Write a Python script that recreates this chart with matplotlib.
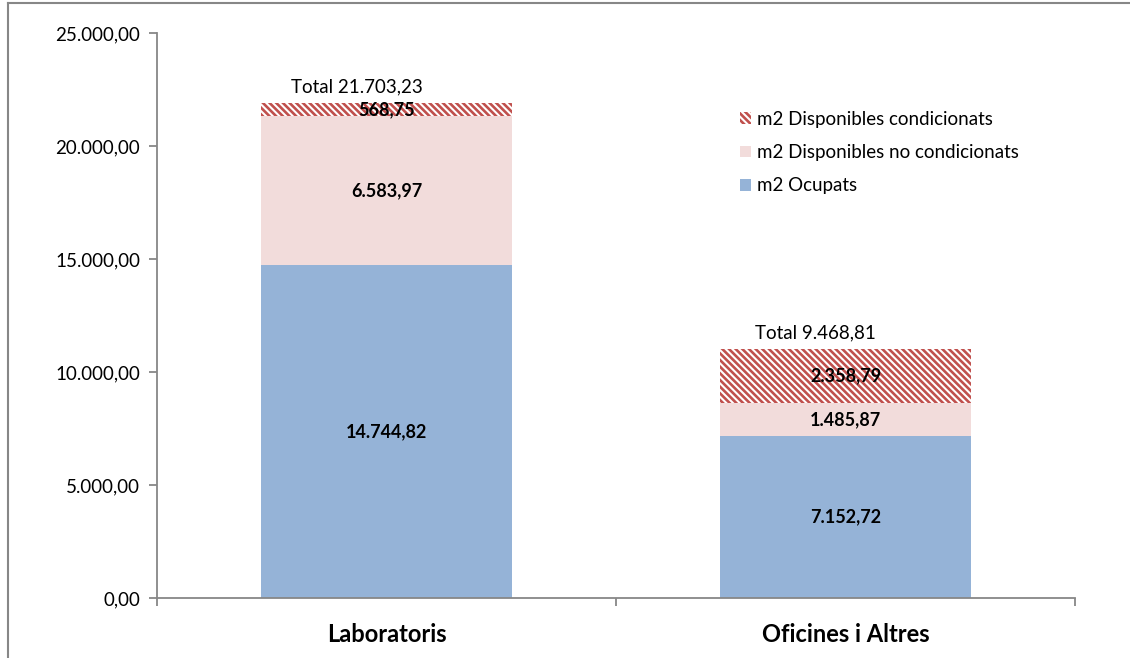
"""Stacked bar chart of m2 per building type."""
import matplotlib
matplotlib.use("Agg")
import matplotlib.pyplot as plt
from matplotlib.lines import Line2D
import numpy as np

plt.rcParams["font.family"] = ["Lato", "DejaVu Sans"]
plt.rcParams["hatch.linewidth"] = 1.9

categories = ["Laboratoris", "Oficines i Altres"]
ocupats = [14744.82, 7152.72]
no_condicionats = [6583.97, 1485.87]
condicionats = [568.75, 2358.79]
totals = [21703.23, 9468.81]
y_ticks = [0, 5000, 10000, 15000, 20000, 25000]


def fmt(v):
    s = f"{v:,.2f}"
    return s.replace(",", "X").replace(".", ",").replace("X", ".")


fig = plt.figure(figsize=(11.3, 6.58), dpi=100)
ax = fig.add_axes([157 / 1130, 1 - 598 / 658, (1075 - 157) / 1130, (598 - 33) / 658])

x = np.arange(len(categories))
width = 0.547
blue, pink, red = "#95b3d7", "#f2dcdb", "#c0504d"

b1 = ax.bar(x, ocupats, width, color=blue, label="m2 Ocupats")
b2 = ax.bar(x, no_condicionats, width, bottom=ocupats, color=pink,
            label="m2 Disponibles no condicionats")
bottom3 = np.array(ocupats) + np.array(no_condicionats)
b3 = ax.bar(x, condicionats, width, bottom=bottom3, facecolor="white",
            edgecolor=red, hatch="\\" * 5, linewidth=0,
            label="m2 Disponibles condicionats")

for vals, bots in [(ocupats, np.zeros(2)), (no_condicionats, ocupats),
                   (condicionats, bottom3)]:
    for xi, v, b in zip(x, vals, bots):
        ax.text(xi, b + v / 2, fmt(v), ha="center", va="center",
                fontsize=13, fontweight="bold", color="black")

for xi, top, t in zip(x, bottom3 + np.array(condicionats), totals):
    ax.text(xi - 0.065, top + 350, f"Total {fmt(t)}", ha="center", va="bottom",
            fontsize=13.5, color="black")

ax.set_xlim(-0.5, 1.5)
ax.set_ylim(0, 25000)
ax.set_yticks(y_ticks)
ax.set_yticklabels([fmt(v) for v in y_ticks], fontsize=13.5)
ax.set_xticks([-0.5, 0.5, 1.5])
ax.set_xticklabels([])
ax.set_xticks(x, minor=True)
ax.set_xticklabels(categories, minor=True, fontsize=17, fontweight="bold")
ax.tick_params(axis="x", which="minor", length=0, pad=18)
ax.tick_params(axis="x", which="major", length=6, color="#878787", width=1.3)
ax.tick_params(axis="y", length=6, color="#878787", width=1.3, pad=6)

for side in ["top", "right"]:
    ax.spines[side].set_visible(False)
for side in ["left", "bottom"]:
    ax.spines[side].set_color("#878787")
    ax.spines[side].set_linewidth(1.3)

handles = [b3, b2, b1]
ax.legend(handles, [h.get_label() for h in handles], loc="upper left",
          bbox_to_anchor=(0.635, 0.862), frameon=False, fontsize=13.5,
          borderpad=0, borderaxespad=0,
          handlelength=0.6, handleheight=0.6, handletextpad=0.3, labelspacing=0.86)

# outer chart border (left and top only visible in crop)
fig.add_artist(Line2D([8 / 1130, 8 / 1130], [0, 1 - 3 / 658], color="#878787", lw=1.5))
fig.add_artist(Line2D([8 / 1130, 1], [1 - 3 / 658, 1 - 3 / 658], color="#878787", lw=1.5))

plt.savefig("out.png", dpi=100)
plt.close()
